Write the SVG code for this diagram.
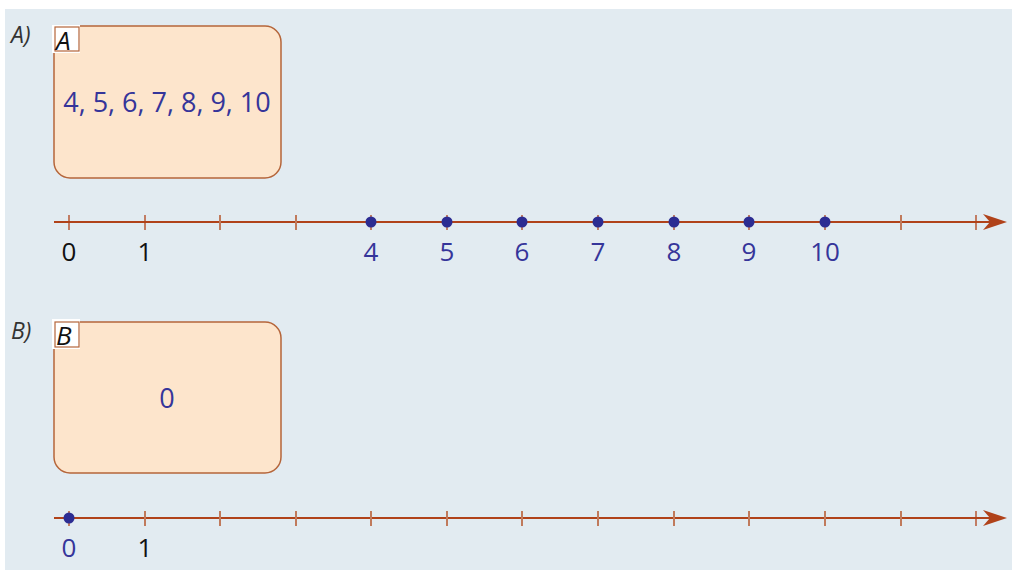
<svg xmlns="http://www.w3.org/2000/svg" width="1013" height="571" viewBox="0 0 1013 571">
<style>
.bg{fill:#e2ebf1}
.set{fill:#fde5cc;stroke:#b5653a;stroke-width:1.5}
.tagbox{fill:#ffffff}
.taginner{fill:none;stroke:#b5653a;stroke-width:1.2}
.tag{font-family:"Open Sans","Noto Sans",sans-serif;font-style:italic;font-size:26px;fill:#111}
.part{font-family:"Open Sans","Noto Sans",sans-serif;font-style:italic;font-size:23px;fill:#333}
.blue{font-family:"Open Sans","Noto Sans",sans-serif;font-size:26px;fill:#35359a;text-anchor:middle}
.big{font-size:27px}
.black{font-family:"Open Sans","Noto Sans",sans-serif;font-size:26px;fill:#111;text-anchor:middle}
.axis{stroke:#b0421a;stroke-width:2.2;fill:none}
.tick{stroke:#b0421a;stroke-width:1.3}
.tickl{stroke:#c07a5c;stroke-width:2}
.dot{fill:#2c2c92}
.arrow{fill:#b0421a}
</style>
<rect class="bg" x="5" y="9" width="1007" height="561"/>

<g id="labelA"><text class="part" x="11" y="43">A)</text></g>
<g id="setA">
<rect class="set" x="54" y="26" width="227" height="152" rx="16"/>
<rect class="tagbox" x="52" y="25" width="28" height="28"/>
<rect class="taginner" x="55" y="27" width="24" height="24"/>
<text class="tag" x="56" y="50">A</text>
<text class="blue big" x="167" y="112">4, 5, 6, 7, 8, 9, 10</text>
</g>

<g id="labelB"><text class="part" x="11" y="339">B)</text></g>
<g id="setB">
<rect class="set" x="54" y="322" width="227" height="151" rx="16"/>
<rect class="tagbox" x="52" y="319" width="28" height="30"/>
<rect class="taginner" x="55" y="322" width="24" height="25"/>
<text class="tag" x="56" y="345">B</text>
<text class="blue big" x="167" y="408">0</text>
</g>

<g id="connectors">
<g id="lineA">
<line class="axis" x1="54" y1="222" x2="992" y2="222"/>
<path class="arrow" d="M983,214 L1007,222 L983,230 L990,222 Z"/>
<line class="tick" x1="69" y1="215" x2="69" y2="230"/>
<line class="tick" x1="145" y1="215" x2="145" y2="230"/>
<line class="tickl" x1="220" y1="215" x2="220" y2="230"/>
<line class="tickl" x1="296" y1="215" x2="296" y2="230"/>
<line class="tick" x1="371" y1="215" x2="371" y2="230"/>
<line class="tick" x1="447" y1="215" x2="447" y2="230"/>
<line class="tick" x1="522" y1="215" x2="522" y2="230"/>
<line class="tick" x1="598" y1="215" x2="598" y2="230"/>
<line class="tick" x1="674" y1="215" x2="674" y2="230"/>
<line class="tick" x1="749" y1="215" x2="749" y2="230"/>
<line class="tick" x1="825" y1="215" x2="825" y2="230"/>
<line class="tickl" x1="901" y1="215" x2="901" y2="230"/>
<line class="tick" x1="976" y1="215" x2="976" y2="230"/>
<circle class="dot" cx="371" cy="222" r="5.5"/>
<circle class="dot" cx="447" cy="222" r="5.5"/>
<circle class="dot" cx="522" cy="222" r="5.5"/>
<circle class="dot" cx="598" cy="222" r="5.5"/>
<circle class="dot" cx="674" cy="222" r="5.5"/>
<circle class="dot" cx="749" cy="222" r="5.5"/>
<circle class="dot" cx="825" cy="222" r="5.5"/>
</g>
<g id="lineB">
<line class="axis" x1="54" y1="518" x2="992" y2="518"/>
<path class="arrow" d="M983,510 L1007,518 L983,526 L990,518 Z"/>
<line class="tick" x1="69" y1="511" x2="69" y2="526"/>
<line class="tickl" x1="145" y1="511" x2="145" y2="526"/>
<line class="tickl" x1="220" y1="511" x2="220" y2="526"/>
<line class="tickl" x1="296" y1="511" x2="296" y2="526"/>
<line class="tickl" x1="371" y1="511" x2="371" y2="526"/>
<line class="tickl" x1="447" y1="511" x2="447" y2="526"/>
<line class="tickl" x1="522" y1="511" x2="522" y2="526"/>
<line class="tickl" x1="598" y1="511" x2="598" y2="526"/>
<line class="tickl" x1="674" y1="511" x2="674" y2="526"/>
<line class="tickl" x1="749" y1="511" x2="749" y2="526"/>
<line class="tickl" x1="825" y1="511" x2="825" y2="526"/>
<line class="tickl" x1="901" y1="511" x2="901" y2="526"/>
<line class="tick" x1="976" y1="511" x2="976" y2="526"/>
<circle class="dot" cx="69" cy="518" r="5.5"/>
</g>
</g>

<g id="axisLabels">
<text class="black" x="69" y="261">0</text>
<text class="black" x="145" y="261">1</text>
<text class="blue" x="371" y="261">4</text>
<text class="blue" x="447" y="261">5</text>
<text class="blue" x="522" y="261">6</text>
<text class="blue" x="598" y="261">7</text>
<text class="blue" x="674" y="261">8</text>
<text class="blue" x="749" y="261">9</text>
<text class="blue" x="825" y="261">10</text>
<text class="blue" x="69" y="557">0</text>
<text class="black" x="145" y="557">1</text>
</g>
</svg>
